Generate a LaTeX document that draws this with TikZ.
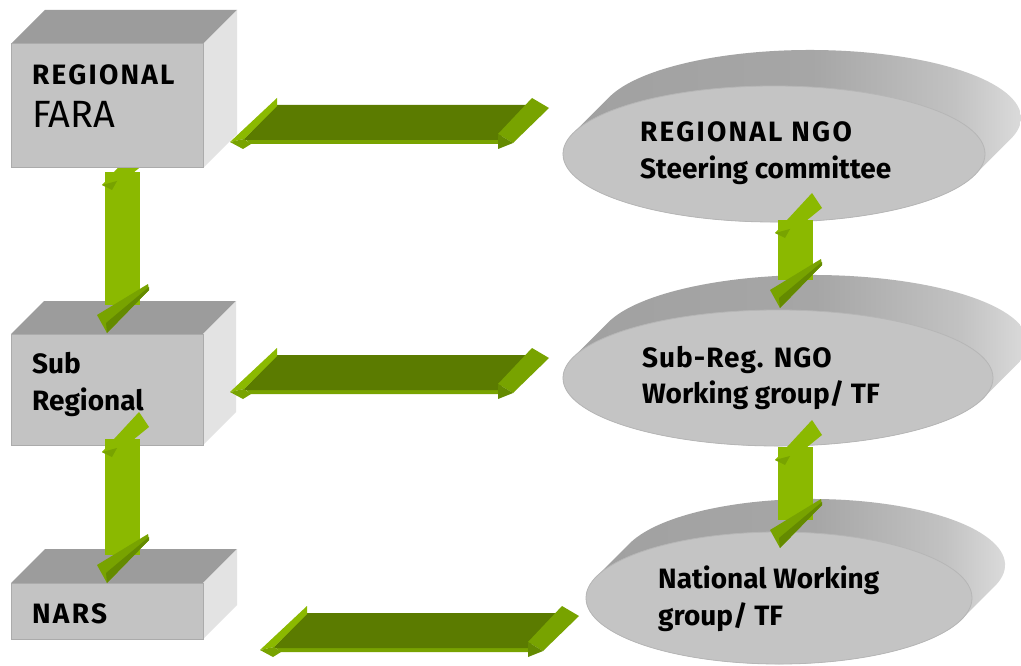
\documentclass[tikz,border=0pt]{standalone}
\usepackage{fontspec}
\setmainfont{Fira Sans}
\definecolor{boxfront}{HTML}{C3C3C3}
\definecolor{boxtop}{HTML}{9C9C9C}
\definecolor{boxside}{HTML}{E3E3E3}
\definecolor{boxedge}{HTML}{ABABAB}
\definecolor{discfront}{HTML}{C4C4C4}
\definecolor{discedge}{HTML}{B6B6B6}
\definecolor{sda}{HTML}{A0A0A0}
\definecolor{sdb}{HTML}{A6A6A6}
\definecolor{sdc}{HTML}{C2C2C2}
\definecolor{sdd}{HTML}{E4E4E4}
\definecolor{gDark}{HTML}{5B7B00}
\definecolor{gLight}{HTML}{8BB900}
\definecolor{gMid}{HTML}{78A300}
\definecolor{gDeep}{HTML}{648A00}
\pgfdeclarehorizontalshading{discside}{100bp}{color(0bp)=(sda); color(25bp)=(sda); color(52bp)=(sdb); color(66bp)=(sdc); color(75bp)=(sdd); color(100bp)=(sdd)}
\newcommand\drawcube[5]{%
  \fill[boxtop] (#1,#2) -- (#1+#5,#2-#5) -- (#3+#5,#2-#5) -- (#3,#2) -- cycle;
  \fill[boxside] (#3,#2) -- (#3+#5,#2-#5) -- (#3+#5,#4-#5) -- (#3,#4) -- cycle;
  \fill[boxfront,draw=boxedge,line width=1pt] (#1,#2) rectangle (#3,#4);}
% disc: cx, cy, a, b, s, theta
\newcommand\drawdisc[6]{%
  \begin{scope}[shift={(#1,#2)}]
  \shade[shading=discside] (180+#6:#3 and #4) -- ++(#5,-#5)
    arc[start angle=180+#6,end angle=360+#6,x radius=#3,y radius=#4]
    -- (#6:#3 and #4)
    arc[start angle=#6,end angle=180+#6,x radius=#3,y radius=#4] -- cycle;
  \fill[discfront,draw=discedge,line width=0.8pt] (0,0) ellipse[x radius=#3,y radius=#4];
  \end{scope}}
\newcommand\harrow{%
  \fill[gMid] (244,138) -- (498,138) -- (498,144) -- (250,144) -- cycle;
  \fill[gDark] (243,140) -- (498,140) -- (532,105) -- (277,105) -- cycle;
  \fill[gLight] (277,98) -- (230,142) -- (244,139) -- (277,106) -- cycle;
  \fill[gMid] (230,142) -- (243,149) -- (251,144) -- (244,139) -- cycle;
  \fill[gMid] (532,98) -- (549,108) -- (513,143) -- (498,134) -- cycle;
  \fill[gDeep] (498,134) -- (513,143) -- (498,149) -- cycle;}
% vertical arrow: L, T, B
\newcommand\varrow[3]{%
  \fill[gLight] (#1,#2-5) rectangle (#1+35,#3+12);
  \fill[gLight] (#1-3,#2+8) -- (#1+34,#2-32) -- (#1+44,#2-17) -- (#1+7,#2+13) -- cycle;
  \fill[gMid] (#1-3,#2+8) -- (#1+7,#2+13) -- (#1+12,#2+4) -- cycle;
  \fill[gMid] (#1+43,#3-9) -- (#1+44,#3-3) -- (#1+2,#3+40) -- (#1-8,#3+22) -- cycle;
  \fill[gDeep] (#1+44,#3-6) -- (#1+44,#3-3) -- (#1+2,#3+40) -- (#1+1,#3+30) -- cycle;}
\begin{document}
\begin{tikzpicture}[x=1pt,y=-1pt,
  lbl/.style={anchor=base west,inner sep=0pt,font=\bfseries\fontsize{28}{32}\selectfont},
  lblcaps/.style={anchor=base west,inner sep=0pt,font=\bfseries\fontsize{28}{32}\selectfont\addfontfeature{LetterSpace=8}},
  lblmix/.style={anchor=base west,inner sep=0pt,font=\bfseries\fontsize{28}{32}\selectfont\addfontfeature{LetterSpace=3.5}},
  lblreg/.style={anchor=base west,inner sep=0pt,font=\fontsize{38}{42}\selectfont}]
\useasboundingbox[fill=white] (0,0) rectangle (1021,666);
% discs
\drawdisc{774}{154}{211}{68}{36}{17.8}
\drawdisc{778}{378}{215}{68}{35}{17.5}
\drawdisc{779}{598}{193}{66}{33}{18.9}
% boxes and left vertical arrows
\drawcube{11}{334}{203}{445}{33}
\drawcube{11}{583}{203}{639}{34}
\varrow{105}{177}{293}
\drawcube{11}{44}{203}{168}{34}
\varrow{105}{444}{543}
% right vertical arrows
\varrow{778}{225}{268}
\varrow{778}{452}{508}
% horizontal arrows
\harrow
\begin{scope}[shift={(0,250)}]\harrow\end{scope}
\begin{scope}[shift={(30,508)}]\harrow\end{scope}
% texts
\node[lblcaps] (fara1) at (32,85) {REGIONAL};
\node[lblreg] (fara2) at (32,128) {FARA};
\node[lbl] (sub1) at (32,373) {Sub};
\node[lbl] (sub2) at (32,410) {Regional};
\node[lblcaps] (nars) at (32,623) {NARS};
\node[lblcaps] (ngo1) at (640,142) {REGIONAL NGO};
\node[lbl] (ngo2) at (640,179) {Steering committee};
\node[lblmix] (sr1) at (642,367) {Sub-Reg. NGO};
\node[lbl] (sr2) at (642,403) {Working group/ TF};
\node[lbl] (nat1) at (658,588) {National Working};
\node[lbl] (nat2) at (658,625) {group/ TF};
\end{tikzpicture}
\end{document}
